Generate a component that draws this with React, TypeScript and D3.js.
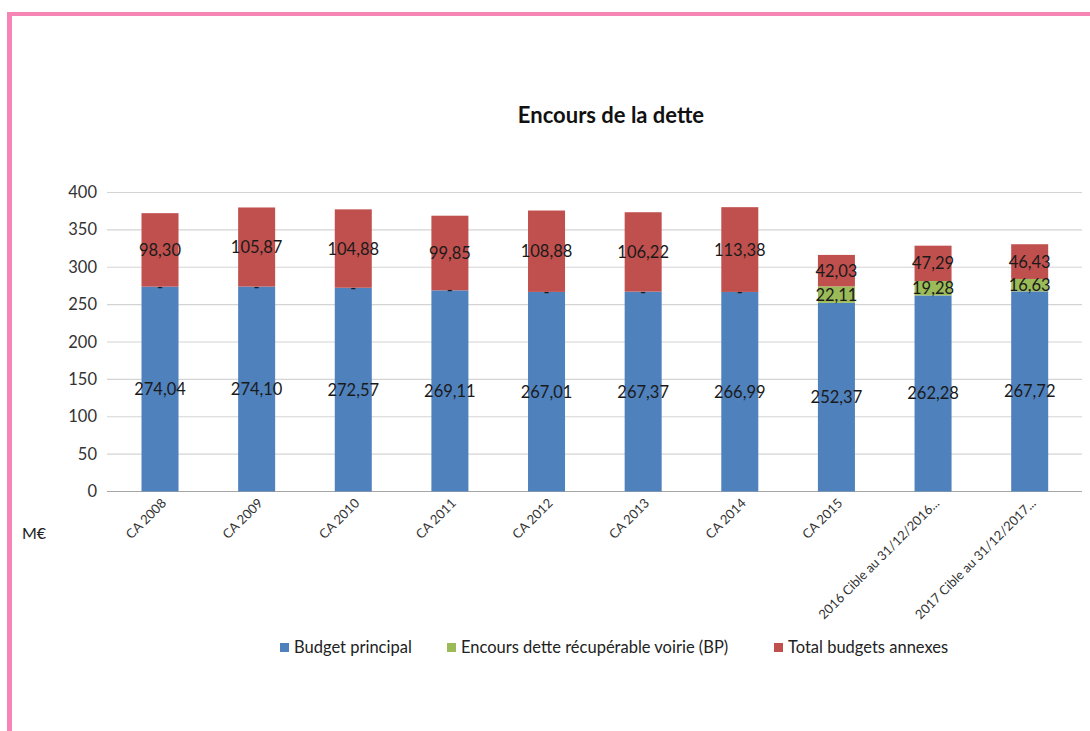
import React from "react";
import * as d3 from "d3";

const categories = ["CA 2008", "CA 2009", "CA 2010", "CA 2011", "CA 2012", "CA 2013", "CA 2014", "CA 2015", "2016 Cible au 31/12/2016...", "2017 Cible au 31/12/2017..."];
const budgetPrincipal = [274.04, 274.10, 272.57, 269.11, 267.01, 267.37, 266.99, 252.37, 262.28, 267.72];
const voirie = [0, 0, 0, 0, 0, 0, 0, 22.11, 19.28, 16.63];
const annexes = [98.30, 105.87, 104.88, 99.85, 108.88, 106.22, 113.38, 42.03, 47.29, 46.43];
const yTicks = [0, 50, 100, 150, 200, 250, 300, 350, 400];
const seriesNames = ["Budget principal", "Encours dette récupérable voirie (BP)", "Total budgets annexes"];
const colors = ["#4f81bd", "#9bbb59", "#c0504d"];

const FONT = "Lato, 'Open Sans', sans-serif";

export default function App() {
  const W = 1090, H = 731;
  const gridLeft = 107, left = 111.7, right = 1078, top = 192.5, bottom = 491.5;
  const x = d3.scaleBand<string>().domain(categories).range([left, right]).paddingInner(0.617).paddingOuter(0.3085);
  const y = d3.scaleLinear().domain([0, 400]).range([bottom, top]);
  const fmt = (v: number) => (v === 0 ? "-" : v.toFixed(2).replace(".", ","));

  const series = [budgetPrincipal, voirie, annexes];
  const rows = categories.map((c, i) => {
    let acc = 0;
    return series.map((s, k) => {
      const y0 = acc;
      acc += s[i];
      return { k, y0, y1: acc, v: s[i] };
    });
  });

  const legendX = [280, 447, 774];

  return (
    <svg width={W} height={H} style={{ position: "absolute", left: 0, top: 0, background: "#fff" }}>
      <rect x={0} y={0} width={W} height={H} fill="#ffffff" />
      <rect x={7} y={12} width={W - 7} height={4} fill="#f485b5" />
      <rect x={7} y={12} width={5} height={H - 12} fill="#f485b5" />
      <text x={611} y={123} textAnchor="middle" fontFamily={FONT} fontWeight="bold" fontSize={22} fill="#111">Encours de la dette</text>
      {yTicks.map((t) => (
        <g key={t}>
          <line x1={gridLeft} x2={right + 4} y1={y(t)} y2={y(t)} stroke={t === 0 ? "#a6a6a6" : "#d4d4d4"} strokeWidth={1.2} />
          <text x={97} y={y(t) + 5.5} textAnchor="end" fontFamily={FONT} fontSize={16.5} fill="#333">{t}</text>
        </g>
      ))}
      {categories.map((c, i) => (
        <g key={c}>
          {rows[i].map((r) => (
            <rect key={r.k} x={x(c)} width={x.bandwidth()} y={y(r.y1)} height={y(r.y0) - y(r.y1)} fill={colors[r.k]} />
          ))}
          {rows[i].map((r) => (
            <text key={"l" + r.k} x={(x(c) as number) + x.bandwidth() / 2} y={y((r.y0 + r.y1) / 2) + 6} textAnchor="middle" fontFamily={FONT} fontSize={16.5} fill="#1a1a1a">{fmt(r.v)}</text>
          ))}
          <text transform={`translate(${(x(c) as number) + x.bandwidth() / 2 + 7},${504}) rotate(-45)`} textAnchor="end" fontFamily={FONT} fontSize={13} fill="#333">{c}</text>
        </g>
      ))}
      <text x={22} y={539} fontFamily={FONT} fontSize={16} fill="#222">M€</text>
      {seriesNames.map((n, k) => (
        <g key={n}>
          <rect x={legendX[k]} y={643} width={9} height={9} fill={colors[k]} />
          <text x={legendX[k] + 14} y={653} fontFamily={FONT} fontSize={16.5} fill="#222">{n}</text>
        </g>
      ))}
    </svg>
  );
}
